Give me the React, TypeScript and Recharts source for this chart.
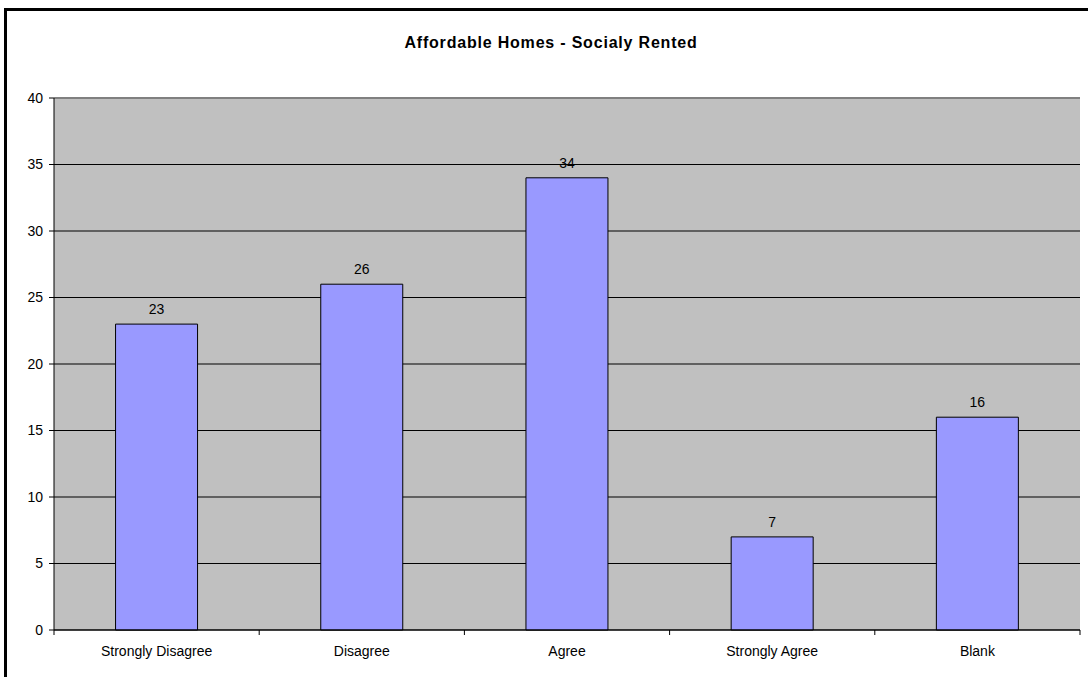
import { BarChart, Bar, XAxis, YAxis, CartesianGrid, LabelList, ReferenceLine } from 'recharts';

const categories = ['Strongly Disagree', 'Disagree', 'Agree', 'Strongly Agree', 'Blank'];
const counts = [23, 26, 34, 7, 16];
const yTicks = [0, 5, 10, 15, 20, 25, 30, 35, 40];

const data = categories.map((name, i) => ({ name, value: counts[i] }));

const font = '"Liberation Sans", Arial, sans-serif';
const tickFont = { fill: '#000', fontSize: 14, fontFamily: font };

const TICK_SIZE = 5;
const TICK_MARGIN = 11;

// Category label plus Excel-style tick marks on the category boundaries
function CategoryTick(props: any) {
  const { x, y, payload, index, visibleTicksCount } = props;
  const half = payload?.offset ?? 0;
  const y0 = y - TICK_SIZE - TICK_MARGIN;
  const isLast = index === visibleTicksCount - 1;
  return (
    <g>
      <line x1={x - half} x2={x - half} y1={y0} y2={y0 + TICK_SIZE} stroke="#000" />
      {isLast && <line x1={x + half} x2={x + half} y1={y0} y2={y0 + TICK_SIZE} stroke="#000" />}
      <text x={x} y={y} dy="0.71em" textAnchor="middle" fill="#000" fontSize={14} fontFamily={font}>
        {payload.value}
      </text>
    </g>
  );
}

export default function App() {
  return (
    <div style={{ position: 'absolute', left: 0, top: 0, width: 1088, height: 677, overflow: 'hidden', background: '#fff', fontFamily: font }}>
      {/* outer chart frame, runs off the right and bottom edges */}
      <div style={{ position: 'absolute', left: 4, top: 8, width: 1200, height: 800, borderLeft: '3px solid #000', borderTop: '3px solid #000' }} />
      <div style={{ position: 'absolute', left: 0, width: 1102, top: 34, textAlign: 'center', fontSize: 16, fontWeight: 'bold', letterSpacing: 0.8, color: '#000' }}>
        Affordable Homes - Socialy Rented
      </div>
      <BarChart
        width={1088}
        height={677}
        data={data}
        margin={{ top: 98, right: 8, bottom: 17, left: 0 }}
        barCategoryGap="30%"
        style={{ position: 'absolute', left: 0, top: 0 }}
      >
        <CartesianGrid fill="#C0C0C0" fillOpacity={1} stroke="#000" vertical={false} />
        <XAxis
          dataKey="name"
          tickLine={false}
          tickSize={TICK_SIZE}
          tickMargin={TICK_MARGIN}
          axisLine={{ stroke: '#000' }}
          tick={<CategoryTick />}
          interval={0}
        />
        <YAxis
          domain={[0, 40]}
          ticks={yTicks}
          width={54}
          tickSize={5}
          tickMargin={6}
          axisLine={{ stroke: '#000' }}
          tickLine={{ stroke: '#000' }}
          tick={tickFont}
        />
        <YAxis
          yAxisId="right"
          orientation="right"
          domain={[0, 40]}
          width={0}
          tick={false}
          tickLine={false}
          axisLine={{ stroke: '#808080', strokeWidth: 2 }}
        />
        <ReferenceLine y={40} stroke="#808080" strokeWidth={2} />
        <Bar dataKey="value" fill="#9999FF" stroke="#000" strokeWidth={1} isAnimationActive={false}>
          <LabelList dataKey="value" position="top" offset={10} fill="#000" fontSize={14} fontFamily={font} />
        </Bar>
      </BarChart>
    </div>
  );
}
